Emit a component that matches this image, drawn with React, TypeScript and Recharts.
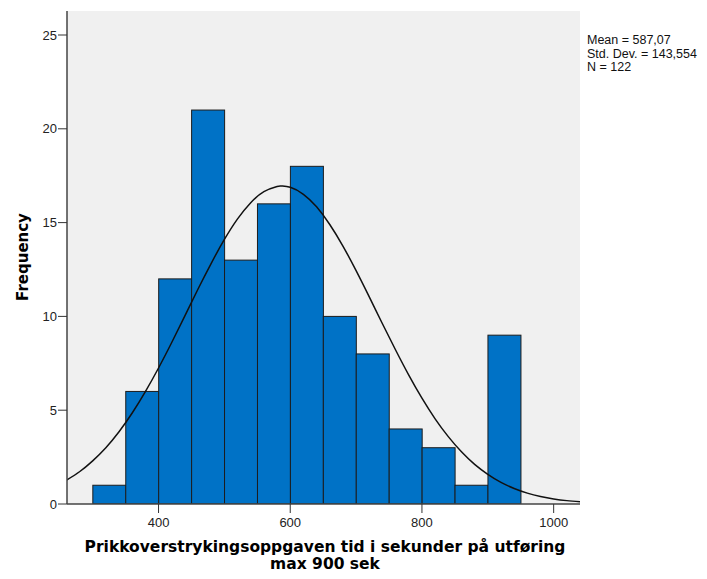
import { ComposedChart, Bar, Line, XAxis, YAxis, CartesianGrid } from "recharts";

// Bin midpoints (50 s wide bins) and their counts
const binMids = [325, 375, 425, 475, 525, 575, 625, 675, 725, 775, 825, 875, 925];
const binCounts = [1, 6, 12, 21, 13, 16, 18, 10, 8, 4, 3, 1, 9];

// Fitted normal curve, sampled every 20 s (plus the peak)
const curveX = [
  260, 280, 300, 320, 340, 360, 380, 400, 420, 440, 460, 480, 500, 520, 540, 560, 580, 587, 600, 620, 640,
  660, 680, 700, 720, 740, 760, 780, 800, 820, 840, 860, 880, 900, 920, 940, 960, 980, 1000, 1020, 1040,
];
const curveY = [
  1.27, 1.72, 2.3, 3.0, 3.85, 4.85, 5.99, 7.25, 8.61, 10.03, 11.46, 12.83, 14.1, 15.2, 16.06, 16.65, 16.93,
  16.95, 16.88, 16.51, 15.84, 14.9, 13.75, 12.44, 11.04, 9.61, 8.21, 6.87, 5.64, 4.54, 3.59, 2.78, 2.11,
  1.58, 1.15, 0.83, 0.58, 0.4, 0.27, 0.18, 0.12,
];

const xTicks = [400, 600, 800, 1000];
const yTicks = [0, 5, 10, 15, 20, 25];
const statLines = ["Mean = 587,07", "Std. Dev. = 143,554", "N = 122"];

const X_DOMAIN: [number, number] = [261, 1040];
const Y_DOMAIN: [number, number] = [0, 26.28];
const BIN_PX = 33; // one 50 s bin on this axis

type Row = { x: number; count?: number; curve?: number };

const rows: Row[] = [
  ...binMids.map((x, i) => ({ x, count: binCounts[i] })),
  ...curveX.map((x, i) => ({ x, curve: curveY[i] })),
].sort((a, b) => a.x - b.x);

const FONT = "'Liberation Sans', Arial, sans-serif";
const TITLE_FONT = "'DejaVu Sans', Verdana, sans-serif";
const tickStyle = { fontSize: 13, fill: "#222", fontFamily: FONT };

// Recharts narrows the band because the curve rows sit close together,
// so widen each bar back to a full bin around its centre.
function BinBar(props: any) {
  const { x, y, width, height } = props;
  if (height == null || height <= 0) return null;
  const cx = x + width / 2;
  return (
    <rect
      x={cx - BIN_PX / 2}
      y={y}
      width={BIN_PX}
      height={height}
      fill="#0072c6"
      stroke="#1c1c1c"
      strokeWidth={1}
    />
  );
}

export default function App() {
  return (
    <div style={{ position: "absolute", left: 0, top: 0, width: 707, height: 579, background: "#fff", fontFamily: FONT }}>
      <ComposedChart
        width={707}
        height={579}
        data={rows}
        margin={{ top: 11, right: 127, bottom: 45, left: 7 }}
      >
        <CartesianGrid fill="#f0f0f0" horizontal={false} vertical={false} />
        <XAxis
          xAxisId="top"
          orientation="top"
          dataKey="x"
          type="number"
          domain={X_DOMAIN}
          allowDataOverflow
          height={0}
          tick={false}
          tickLine={false}
          axisLine={{ stroke: "#666", strokeWidth: 1.5 }}
        />
        <YAxis
          yAxisId="right"
          orientation="right"
          type="number"
          domain={Y_DOMAIN}
          width={0}
          tick={false}
          tickLine={false}
          axisLine={{ stroke: "#666", strokeWidth: 1.5 }}
        />
        <XAxis
          dataKey="x"
          type="number"
          domain={X_DOMAIN}
          allowDataOverflow
          ticks={xTicks}
          height={30}
          tickSize={9}
          tickMargin={5}
          tick={tickStyle}
          tickLine={{ stroke: "#333" }}
          axisLine={{ stroke: "#444", strokeWidth: 1.5 }}
        />
        <YAxis
          type="number"
          domain={Y_DOMAIN}
          allowDataOverflow
          ticks={yTicks}
          width={60}
          tickSize={9}
          tickMargin={1}
          tick={tickStyle}
          tickLine={{ stroke: "#333" }}
          axisLine={{ stroke: "#444", strokeWidth: 1.5 }}
        />
        <Bar dataKey="count" shape={<BinBar />} isAnimationActive={false} />
        <Line
          dataKey="curve"
          type="natural"
          stroke="#111"
          strokeWidth={1.5}
          dot={false}
          connectNulls
          isAnimationActive={false}
        />
      </ComposedChart>

      <div style={{ position: "absolute", left: 587, top: 34, fontSize: 12.5, lineHeight: "13.5px", color: "#111" }}>
        {statLines.map((s) => (
          <div key={s}>{s}</div>
        ))}
      </div>

      <div
        style={{
          position: "absolute",
          left: 23,
          top: 257,
          transform: "translate(-50%, -50%) rotate(-90deg)",
          fontSize: 15,
          fontFamily: TITLE_FONT,
          fontWeight: "bold",
          color: "#000",
          whiteSpace: "nowrap",
        }}
      >
        Frequency
      </div>

      <div
        style={{
          position: "absolute",
          left: 0,
          width: 650,
          top: 539,
          textAlign: "center",
          fontSize: 15.5,
          fontFamily: TITLE_FONT,
          fontWeight: "bold",
          lineHeight: "17px",
          color: "#000",
        }}
      >
        <div>Prikkoverstrykingsoppgaven tid i sekunder på utføring</div>
        <div>max 900 sek</div>
      </div>
    </div>
  );
}
